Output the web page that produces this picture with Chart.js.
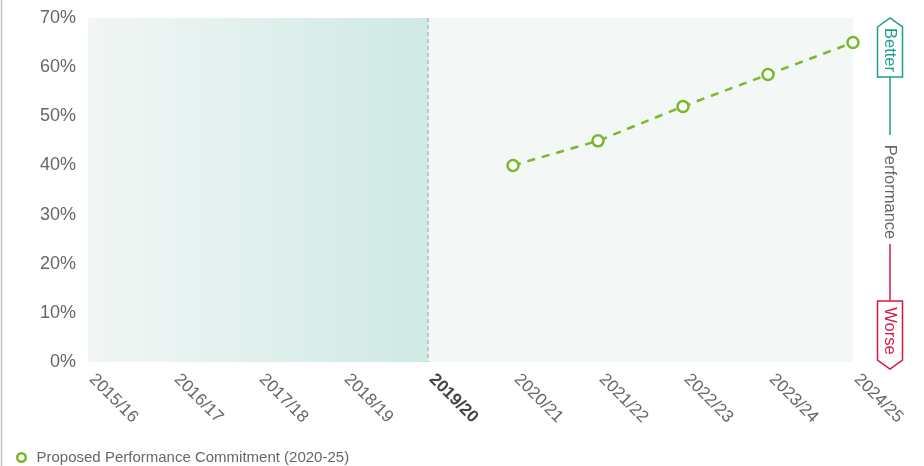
<!DOCTYPE html>
<html>
<head>
<meta charset="utf-8">
<script src="https://cdn.jsdelivr.net/npm/chart.js@4"></script>
<style>
  html, body { margin: 0; padding: 0; background: #fff; }
  #wrap { position: relative; width: 924px; height: 466px; }
</style>
</head>
<body>
<div id="wrap"><canvas id="PerformanceChart"></canvas></div>
<script>
// years along the x axis, reported years first then the 2020-25 period
var years = ["2015/16", "2016/17", "2017/18", "2018/19", "2019/20", "2020/21", "2021/22", "2022/23", "2023/24", "2024/25"];
// proposed commitment (%), only set for 2020/21 onwards
var commitment = [null, null, null, null, null, 40, 45, 52, 58.5, 65];
var yMin = 0, yMax = 70, yStep = 10;
var baseYear = "2019/20";

var green = "#78b82a";
var teal = "#1b9e8b";
var red = "#d9173f";
var grey = "#666";

Chart.defaults.font.family = '"Liberation Sans", Arial, Helvetica, sans-serif';

// shaded history / forecast backgrounds plus the dashed base-year line
var bands = {
  id: "bands",
  beforeDraw: function(chart) {
    var c = chart.ctx, a = chart.chartArea, x = chart.scales.x;
    var xb = x.getPixelForValue(years.indexOf(baseYear));
    c.save();
    // left page border
    c.strokeStyle = "#c4c4c4";
    c.lineWidth = 1.5;
    c.beginPath(); c.moveTo(1.5, 0); c.lineTo(1.5, chart.height); c.stroke();

    var g = c.createLinearGradient(a.left, 0, xb, 0);
    g.addColorStop(0, "#f2f6f5");
    g.addColorStop(1, "#cfe9e5");
    c.fillStyle = g;
    c.fillRect(a.left, a.top, xb - a.left, a.bottom - a.top);
    c.fillStyle = "#f3f8f6";
    c.fillRect(xb, a.top, a.right - xb, a.bottom - a.top);

    c.strokeStyle = "#b8b8b8";
    c.setLineDash([4, 3]);
    c.beginPath(); c.moveTo(xb, a.top); c.lineTo(xb, a.bottom); c.stroke();
    c.restore();
  }
};

// slanted year labels, base year in bold
var yearLabels = {
  id: "yearLabels",
  afterDraw: function(chart) {
    var c = chart.ctx, a = chart.chartArea, x = chart.scales.x;
    c.save();
    c.textAlign = "left";
    c.textBaseline = "alphabetic";
    years.forEach(function(label, i) {
      var bold = label === baseYear;
      c.font = (bold ? "bold " : "") + "17px " + Chart.defaults.font.family;
      c.fillStyle = bold ? "#444" : grey;
      c.save();
      c.translate(x.getPixelForTick(i) + 0.5, a.bottom + 18);
      c.rotate(Math.PI / 4);
      c.fillText(label, 0, 0);
      c.restore();
    });
    c.restore();
  }
};

// Better / Performance / Worse indicator to the right of the plot
var direction = {
  id: "direction",
  afterDraw: function(chart) {
    var c = chart.ctx, a = chart.chartArea;
    var cx = 890, l = 877.5, r = 902.5;
    var top = a.top, bottom = a.bottom + 7;
    c.save();
    c.lineWidth = 1.5;

    c.strokeStyle = teal;
    c.beginPath();
    c.moveTo(l, top + 9); c.lineTo(cx, top); c.lineTo(r, top + 9);
    c.lineTo(r, top + 59); c.lineTo(l, top + 59); c.closePath();
    c.stroke();
    c.beginPath(); c.moveTo(cx, top + 59); c.lineTo(cx, top + 117); c.stroke();

    c.strokeStyle = red;
    c.beginPath();
    c.moveTo(l, bottom - 68); c.lineTo(r, bottom - 68); c.lineTo(r, bottom - 9);
    c.lineTo(cx, bottom); c.lineTo(l, bottom - 9); c.closePath();
    c.stroke();
    c.beginPath(); c.moveTo(cx, bottom - 68); c.lineTo(cx, bottom - 125); c.stroke();

    c.font = "16.5px " + Chart.defaults.font.family;
    c.textAlign = "center";
    c.textBaseline = "middle";
    function vtext(txt, y, col) {
      c.save();
      c.translate(cx, y);
      c.rotate(Math.PI / 2);
      c.fillStyle = col;
      c.fillText(txt, 0, 0);
      c.restore();
    }
    vtext("Better", top + 32, teal);
    vtext("Performance", (a.top + a.bottom) / 2 + 2, grey);
    vtext("Worse", bottom - 38, red);
    c.restore();
  }
};

var ctx = document.getElementById("PerformanceChart").getContext("2d");
var myChart = new Chart(ctx, {
  type: "line",
  data: {
    labels: years,
    datasets: [
      {
        label: "Proposed Performance Commitment (2020-25)",
        data: commitment,
        fill: false,
        borderColor: green,
        backgroundColor: green,
        borderWidth: 2.5,
        borderDash: [8, 7],
        pointStyle: "circle",
        pointRadius: 5.5,
        pointHoverRadius: 5.5,
        pointBorderWidth: 2.5,
        pointBackgroundColor: "#fff",
        pointBorderColor: green,
      },
    ],
  },
  options: {
    responsive: true,
    maintainAspectRatio: false,
    animation: false,
    layout: { padding: { left: 12, right: 71, top: 18, bottom: -9 } },
    scales: {
      x: {
        grid: { display: false, drawTicks: false },
        border: { display: false },
        ticks: { display: false },
        afterFit: function(scale) { scale.height = 86; },
      },
      y: {
        min: yMin,
        max: yMax,
        // tick marks hidden, tickLength only spaces the labels off the plot
        grid: { display: false, drawTicks: true, tickLength: 12 },
        border: { display: false },
        ticks: {
          stepSize: yStep,
          padding: 0,
          color: grey,
          font: { size: 18 },
          callback: function(v) { return v + "%"; },
        },
        afterFit: function(scale) { scale.width = 76; },
      },
    },
    plugins: {
      legend: {
        position: "bottom",
        align: "start",
        labels: {
          usePointStyle: true,
          boxHeight: 6,
          padding: 2,
          color: grey,
          font: { size: 15 },
        },
      },
      tooltip: { enabled: false },
    },
  },
  plugins: [bands, yearLabels, direction],
});
</script>
</body>
</html>
